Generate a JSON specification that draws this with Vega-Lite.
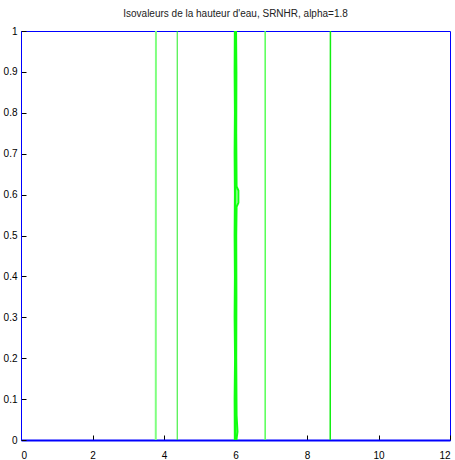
{
  "$schema": "https://vega.github.io/schema/vega-lite/v6.json",
  "width": 429,
  "height": 409,
  "autosize": {"type": "none"},
  "padding": {"left": 21, "top": 31, "right": 5, "bottom": 20},
  "background": "white",
  "title": {"text": "Isovaleurs de la hauteur d'eau, SRNHR, alpha=1.8", "fontSize": 10, "fontWeight": "normal", "font": "Liberation Sans", "color": "#222", "offset": 7, "anchor": "middle"},
  "config": {
    "view": {"stroke": "#0000ff", "strokeWidth": 1},
    "axis": {"grid": false, "domainColor": "#0000ff", "tickColor": "#000", "labelColor": "#000", "labelFont": "Liberation Sans", "labelFontSize": 10, "tickSize": -5, "title": null}
  },
  "data": {"values": [
    {"s": "a", "x": 3.77, "y": 0}, {"s": "a", "x": 3.772, "y": 0.5}, {"s": "a", "x": 3.775, "y": 1},
    {"s": "b", "x": 4.37, "y": 0}, {"s": "b", "x": 4.37, "y": 1},
    {"s": "c1", "x": 5.982, "y": 0}, {"s": "c1", "x": 5.976, "y": 0.1}, {"s": "c1", "x": 5.988, "y": 0.2}, {"s": "c1", "x": 5.976, "y": 0.3}, {"s": "c1", "x": 5.984, "y": 0.4}, {"s": "c1", "x": 5.976, "y": 0.5}, {"s": "c1", "x": 5.984, "y": 0.6}, {"s": "c1", "x": 5.976, "y": 0.7}, {"s": "c1", "x": 5.984, "y": 0.8}, {"s": "c1", "x": 5.976, "y": 0.9}, {"s": "c1", "x": 5.982, "y": 1},
    {"s": "c2", "x": 6.025, "y": 0}, {"s": "c2", "x": 6.055, "y": 0.02}, {"s": "c2", "x": 6.03, "y": 0.06}, {"s": "c2", "x": 6.02, "y": 0.2}, {"s": "c2", "x": 6.025, "y": 0.35}, {"s": "c2", "x": 6.02, "y": 0.5}, {"s": "c2", "x": 6.03, "y": 0.57}, {"s": "c2", "x": 6.08, "y": 0.58}, {"s": "c2", "x": 6.08, "y": 0.61}, {"s": "c2", "x": 6.03, "y": 0.62}, {"s": "c2", "x": 6.02, "y": 0.75}, {"s": "c2", "x": 6.025, "y": 0.9}, {"s": "c2", "x": 6.015, "y": 1},
    {"s": "c3", "x": 6.0, "y": 0}, {"s": "c3", "x": 6.006, "y": 0.25}, {"s": "c3", "x": 5.998, "y": 0.5}, {"s": "c3", "x": 6.006, "y": 0.75}, {"s": "c3", "x": 6.0, "y": 1},
    {"s": "d", "x": 6.83, "y": 0}, {"s": "d", "x": 6.832, "y": 0.5}, {"s": "d", "x": 6.83, "y": 1},
    {"s": "e", "x": 8.65, "y": 0}, {"s": "e", "x": 8.652, "y": 0.5}, {"s": "e", "x": 8.655, "y": 1}
  ]},
  "encoding": {
    "x": {"field": "x", "type": "quantitative", "scale": {"domain": [0, 12], "nice": false}, "axis": {"values": [0, 2, 4, 6, 8, 10, 12], "labelPadding": 15, "domainWidth": 2}},
    "y": {"field": "y", "type": "quantitative", "scale": {"domain": [0, 1], "nice": false}, "axis": {"values": [0, 0.1, 0.2, 0.3, 0.4, 0.5, 0.6, 0.7, 0.8, 0.9, 1], "labelPadding": 9, "format": "~g"}},
    "detail": {"field": "s"},
    "order": {"field": "y", "type": "quantitative"}
  },
  "layer": [
    {"transform": [{"filter": "datum.s == 'a'"}], "mark": {"type": "line", "clip": true, "color": "#80ff80", "strokeWidth": 2}},
    {"transform": [{"filter": "datum.s == 'b'"}], "mark": {"type": "line", "clip": true, "color": "#22ee22", "strokeWidth": 1}},
    {"transform": [{"filter": "datum.s == 'c1' || datum.s == 'c2' || datum.s == 'c3'"}], "mark": {"type": "line", "clip": true, "color": "#11ff11", "strokeWidth": 2}},
    {"transform": [{"filter": "datum.s == 'd'"}], "mark": {"type": "line", "clip": true, "color": "#55ff55", "strokeWidth": 1.5}},
    {"transform": [{"filter": "datum.s == 'e'"}], "mark": {"type": "line", "clip": true, "color": "#11ee11", "strokeWidth": 1.5}}
  ]
}
